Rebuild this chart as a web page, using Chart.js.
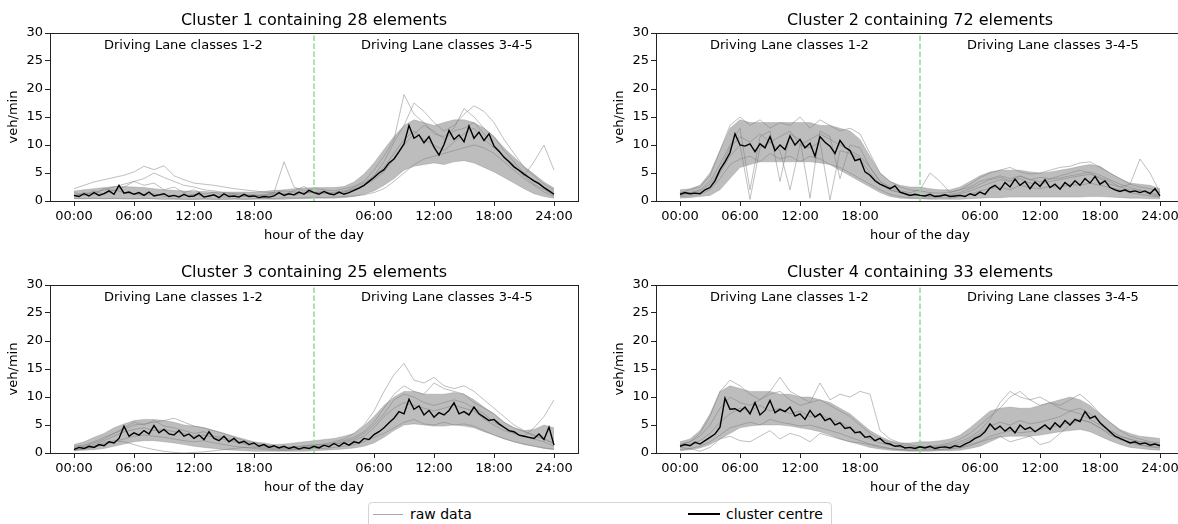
<!DOCTYPE html>
<html>
<head>
<meta charset="utf-8">
<script src="https://cdn.jsdelivr.net/npm/chart.js@4.4.1/dist/chart.umd.min.js"></script>
<style>
  html, body { margin: 0; padding: 0; background: #fff; overflow: hidden; width: 1178px; height: 524px; }
  .panel { position: absolute; width: 600px; height: 250px; }
  #legend { position: absolute; left: 368px; top: 502px; width: 462px; height: 32px; border: 1px solid #d4d4d4;
            border-radius: 4px; background: #fff; font: 14px "DejaVu Sans", sans-serif; color: #000; }
  #legend span { position: absolute; }
</style>
</head>
<body>
<div class="panel" style="left:0;top:0"><canvas id="c1" width="600" height="250"></canvas></div>
<div class="panel" style="left:606px;top:0"><canvas id="c2" width="600" height="250"></canvas></div>
<div class="panel" style="left:0;top:252px"><canvas id="c3" width="600" height="250"></canvas></div>
<div class="panel" style="left:606px;top:252px"><canvas id="c4" width="600" height="250"></canvas></div>
<div id="legend">
  <span style="left:4px;top:11px;width:30px;height:1px;background:#a8a8a8"></span>
  <span style="left:41px;top:3px">raw data</span>
  <span style="left:319px;top:10px;width:32px;height:2px;background:#000"></span>
  <span style="left:357px;top:3px">cluster centre</span>
</div>
<script>
// two lanes glued together: hours 0-24 = classes 1-2, 24-48 = classes 3-4-5
const clusterSizes = [28, 72, 25, 33];
const tickHours = [0, 6, 12, 18, 30, 36, 42, 48];
const tickLabels = ['00:00', '06:00', '12:00', '18:00', '06:00', '12:00', '18:00', '24:00'];
const laneLabels = ['Driving Lane classes 1-2', 'Driving Lane classes 3-4-5'];
const laneSplit = 24;

// cluster centres, one value every 30 min (97 values)
const centre1 = [
  1.0, 0.8, 1.3, 0.9, 1.5, 1.0, 1.3, 1.8, 1.2, 2.8, 1.4, 1.6,
  1.2, 1.5, 1.0, 1.6, 0.9, 1.1, 1.3, 0.8, 1.0, 0.7, 1.2, 0.8,
  0.9, 1.4, 0.7, 0.9, 1.1, 0.6, 1.3, 0.8, 0.9, 0.7, 1.2, 0.8,
  0.9, 0.6, 0.8, 0.7, 0.9, 1.5, 1.0, 1.3, 1.1, 1.6, 1.2, 1.9,
  1.5, 1.2, 1.7, 1.3, 1.1, 1.6, 1.2, 1.5, 1.9, 2.3, 2.8, 3.5,
  4.2, 5.0, 5.6, 6.8, 7.5, 8.8, 10.2, 13.5, 11.2, 11.8, 10.4, 11.5,
  9.6, 8.2, 10.1, 12.6, 11.0, 11.8, 10.6, 13.4, 11.2, 12.3, 10.8, 12.0,
  9.8, 8.9, 7.8, 7.0, 6.1, 5.5, 4.8, 4.2, 3.6, 3.1, 2.4, 1.8,
  1.2
];
const centre2 = [
  1.2, 1.5, 1.3, 1.4, 1.3, 2.0, 2.4, 3.6, 5.6, 7.0, 8.6, 12.0,
  10.0, 9.8, 10.2, 8.8, 10.2, 9.5, 11.5, 9.0, 10.0, 9.2, 11.6, 10.0,
  11.0, 9.5, 10.3, 8.0, 11.5, 10.5, 9.8, 8.5, 10.8, 9.6, 9.0, 7.2,
  7.5, 5.2, 4.6, 3.6, 3.0, 2.6, 2.2, 2.7, 1.6, 1.3, 1.0, 1.2,
  1.0, 0.9, 1.2, 0.8, 0.9, 1.1, 0.8, 0.9, 1.0, 0.8, 1.3, 1.0,
  1.6, 1.2, 2.3, 2.8, 2.0, 3.3, 2.5, 3.9, 2.8, 3.5, 2.2, 3.4,
  2.6, 3.8, 2.4, 3.0, 2.1, 3.3, 2.6, 3.6, 2.8, 4.0, 3.2, 4.4,
  3.0, 3.6, 2.4, 2.0, 1.7, 2.0, 1.6, 1.8, 1.5, 1.8, 1.3, 2.2,
  0.9
];
const centre3 = [
  0.6, 1.0, 0.8, 1.2, 1.0, 1.5, 1.3, 2.0, 1.8, 2.6, 4.8, 3.0,
  3.6, 3.2, 4.0, 3.4, 4.9, 3.6, 4.2, 3.4, 3.2, 4.0, 3.0, 3.4,
  2.6, 3.2, 2.4, 3.8, 2.6, 2.2, 3.0, 2.0, 2.6, 1.8, 2.1, 1.5,
  1.8, 1.2, 1.5, 1.0, 1.3, 0.9, 1.2, 0.8, 1.1, 0.7, 1.0, 0.8,
  1.2, 0.9, 1.4, 1.1, 1.7, 1.2, 1.8, 1.4, 2.0, 1.8, 2.6, 2.4,
  3.3, 3.8, 4.5, 5.4, 6.2, 7.4, 7.0, 9.6, 7.8, 8.4, 6.8, 7.6,
  6.4, 7.2, 6.8, 7.6, 9.0, 7.0, 7.4, 6.8, 8.2, 7.0, 6.4, 5.8,
  6.0, 5.2, 4.6, 4.0, 3.8, 3.2, 3.0, 2.8, 2.6, 3.4, 2.4, 4.6,
  1.4
];
const centre4 = [
  1.2, 1.5, 1.3, 1.9, 1.6, 2.2, 2.8, 3.4, 4.6, 9.8, 7.8, 7.9,
  7.4, 8.2, 7.0, 9.0, 6.8, 7.6, 9.4, 7.2, 7.8, 7.4, 8.2, 6.6,
  7.0, 6.0, 7.6, 6.4, 7.0, 5.8, 6.2, 5.0, 5.4, 4.4, 4.6, 3.6,
  3.8, 2.8, 3.0, 2.2, 2.6, 1.8, 1.6, 1.2, 1.3, 0.9, 1.0, 0.8,
  1.1, 0.9, 1.2, 0.8, 1.0, 1.1, 0.9, 1.3, 1.1, 1.6, 2.0, 2.6,
  3.0, 3.8, 5.2, 4.2, 4.8, 3.9, 4.6, 3.6, 5.0, 4.2, 4.6, 3.8,
  4.4, 5.0, 4.2, 5.4, 4.6, 5.8, 5.0, 6.0, 5.6, 7.4, 6.2, 6.6,
  5.4, 4.6, 3.8, 3.0, 2.6, 2.2, 1.8, 2.0, 1.6, 1.8, 1.4, 1.6,
  1.3
];

// spread of the raw profiles, hourly (49 values): lower and upper edge of the dense band
const low1 = [0.4,0.4,0.4,0.4,0.4,0.4,0.4,0.4,0.4,0.4,0.3,0.3,0.3,0.3,0.3,0.3,0.3,0.3,0.3,0.3,0.3,0.3,0.4,0.4,0.5,
              0.5,0.5,0.6,0.8,1.2,1.8,2.8,4.0,5.5,6.2,6.5,6.8,6.5,7.0,7.2,6.8,6.0,5.2,4.2,3.2,2.2,1.3,0.8,0.5];
const high1 = [1.8,2.0,2.2,2.4,2.6,2.6,2.5,2.4,2.2,2.0,1.9,1.8,1.7,1.7,1.6,1.6,1.6,1.6,1.6,1.7,1.9,2.0,2.2,2.3,2.4,
               2.4,2.4,2.6,3.4,4.8,6.8,9.2,11.5,13.5,14.5,14.0,13.5,14.0,14.5,14.5,14.0,13.0,11.5,9.5,7.8,6.2,4.8,3.4,2.3];
const low2 = [0.5,0.6,0.8,1.0,2.0,4.0,6.0,6.5,7.0,7.0,7.0,7.0,7.0,7.0,6.8,6.5,5.5,4.5,3.5,2.5,1.5,0.8,0.5,0.4,0.4,
              0.3,0.3,0.3,0.3,0.4,0.5,0.6,0.6,0.7,0.7,0.7,0.7,0.7,0.7,0.7,0.7,0.8,0.8,0.7,0.6,0.5,0.5,0.4,0.4];
const high2 = [2.0,2.2,2.8,5.0,9.0,13.0,14.5,14.0,14.0,14.0,14.0,14.0,14.0,14.0,13.5,13.5,13.0,12.5,11.0,8.0,5.0,3.5,2.8,2.5,2.5,
               2.2,2.0,2.0,2.5,3.5,4.5,5.2,5.5,5.5,5.5,5.2,5.0,5.2,5.5,5.8,6.2,6.5,6.2,5.0,4.0,3.2,3.0,2.8,2.2];
const low3 = [0.4,0.5,0.6,0.8,1.2,1.6,2.0,2.2,2.2,2.0,1.8,1.5,1.2,1.0,0.8,0.6,0.5,0.4,0.3,0.3,0.3,0.3,0.3,0.3,0.4,
              0.5,0.6,0.7,0.9,1.2,1.8,2.8,4.0,5.0,5.2,5.0,4.8,4.8,5.0,4.8,4.5,3.8,3.2,2.5,2.0,1.5,1.2,0.8,0.6];
const high3 = [1.5,2.0,2.8,3.5,4.5,5.2,5.8,6.0,6.0,5.8,5.5,5.0,4.8,4.5,4.0,3.5,3.0,2.5,2.0,1.8,1.5,1.6,1.8,2.0,2.2,
               2.4,2.6,3.0,3.5,4.8,6.5,8.5,10.0,11.0,11.0,10.5,10.5,10.5,10.8,10.5,9.5,8.2,7.0,5.5,4.5,4.0,4.2,5.0,4.5];
const low4 = [0.4,0.6,0.9,1.5,2.5,3.5,4.5,4.8,5.0,5.0,5.0,4.8,4.5,4.2,3.8,3.2,2.5,2.0,1.5,1.0,0.7,0.5,0.4,0.3,0.3,
              0.3,0.4,0.4,0.5,0.8,1.2,2.0,2.8,3.0,3.0,3.0,3.2,3.5,3.8,4.0,4.2,3.8,3.0,2.2,1.5,1.0,0.8,0.6,0.5];
const high4 = [2.0,2.5,4.0,7.0,11.0,12.0,11.5,11.0,11.0,11.0,10.5,10.5,10.0,10.0,9.5,9.0,8.0,7.0,5.5,4.0,3.0,2.2,1.8,1.8,2.0,
               2.0,2.2,2.5,3.2,4.5,6.0,7.5,8.0,8.2,8.0,8.0,8.5,9.0,9.5,10.0,9.5,8.5,7.0,5.5,4.2,3.5,3.0,2.8,2.6];

// a few individual raw profiles per cluster, hourly (49 values)
const raw1 = [
  [2.2,2.8,3.4,3.8,4.2,4.6,5.2,6.2,5.6,6.3,4.5,3.8,3.2,3.0,2.8,2.5,2.2,2.0,1.8,1.6,1.5,1.8,1.6,1.4,1.6,
   1.5,1.4,1.6,2.0,2.8,4.5,7.0,10.5,13.5,17.5,16.0,14.0,12.5,13.5,15.5,17.0,16.0,14.0,11.0,8.5,6.0,4.5,3.0,2.0],
  [1.0,1.2,1.5,2.0,2.5,3.0,3.5,4.0,5.0,4.2,3.5,2.8,2.5,2.0,1.8,1.5,1.3,1.2,1.0,1.1,1.5,7.0,2.5,1.8,2.2,
   2.0,1.8,2.2,2.6,3.5,5.5,8.0,11.0,19.0,15.5,14.0,12.0,11.5,13.0,16.5,15.0,13.0,11.5,9.0,7.0,5.0,3.5,2.5,1.5],
  [0.5,0.4,0.5,0.4,0.5,0.4,0.4,0.5,0.4,0.3,0.4,0.3,0.3,0.4,0.3,0.3,0.4,0.3,0.4,0.5,0.4,0.6,0.5,0.6,0.7,
   0.6,0.7,0.8,0.9,1.1,1.5,2.2,3.5,5.0,6.5,7.5,8.0,8.5,9.0,9.5,10.0,9.5,8.5,7.0,5.5,4.0,2.8,1.6,0.8],
  [1.5,1.0,1.8,1.2,2.0,1.5,1.2,1.0,1.3,0.8,1.0,0.9,1.2,0.8,1.0,0.7,0.9,0.8,1.0,0.9,1.2,1.4,1.0,1.5,1.6,
   1.3,1.5,1.8,2.2,2.8,3.8,5.2,7.5,10.0,12.0,13.5,12.5,11.0,12.5,13.0,14.0,12.0,10.0,8.0,6.0,4.5,7.0,10.0,5.5],
  [0.8,1.5,1.2,2.2,1.8,2.5,3.5,2.8,3.2,2.0,2.5,1.5,2.0,1.2,1.6,1.0,1.3,0.8,1.1,0.9,1.4,1.2,1.8,2.6,1.4,
   1.8,1.2,1.5,2.5,3.2,4.5,6.0,8.5,11.0,12.5,11.0,10.0,9.0,10.5,12.0,13.0,11.0,9.5,8.0,6.5,4.5,3.0,2.0,1.0]
];
const raw2 = [
  [1.0,1.5,2.0,3.5,6.5,10.0,13.0,2.0,11.5,12.5,3.5,12.0,11.0,0.5,12.5,11.5,4.0,10.0,9.5,6.0,3.5,2.0,1.5,1.2,1.0,
   0.8,1.0,1.2,1.5,2.2,3.0,3.8,4.2,3.6,4.4,3.8,3.4,3.9,4.1,4.5,4.8,5.2,4.6,3.8,3.0,2.4,2.0,1.5,1.0],
  [1.5,2.0,2.5,4.5,9.0,13.5,15.0,13.5,14.5,13.0,14.0,13.5,15.0,13.0,14.5,13.5,12.5,13.0,12.0,8.5,5.0,3.5,2.5,2.0,1.8,
   1.5,1.4,1.6,2.0,3.0,4.2,5.0,5.5,6.0,5.2,4.8,5.0,5.5,6.0,6.2,6.8,7.0,6.0,5.0,4.0,3.0,2.5,2.2,1.5],
  [0.8,0.9,1.2,2.0,4.0,6.5,7.5,8.0,7.0,8.5,7.5,8.0,7.0,8.0,7.5,6.5,6.0,5.0,4.0,3.0,2.0,1.2,0.8,0.6,0.5,
   0.5,0.6,0.5,0.8,1.2,1.8,2.2,2.5,2.0,2.8,2.4,2.2,2.6,2.4,3.0,2.8,3.2,2.8,2.4,2.0,1.5,1.2,0.9,0.7],
  [1.2,1.4,1.8,3.0,5.5,9.5,11.5,10.5,12.0,10.5,11.5,12.5,10.0,11.0,12.0,11.0,10.0,9.0,8.0,6.0,3.5,2.5,1.8,1.5,2.0,
   5.0,3.5,1.5,2.0,2.5,3.5,4.0,4.5,4.0,4.5,3.8,4.2,4.0,4.5,5.0,5.5,5.0,4.0,3.0,2.5,3.0,7.5,5.0,1.5],
  [1.0,1.2,1.5,2.5,5.0,8.0,10.0,0.3,9.5,10.5,9.0,2.0,10.0,9.5,10.5,0.2,9.0,8.5,7.5,5.0,3.0,2.0,1.5,1.0,1.0,
   0.8,0.9,1.0,1.2,1.8,2.5,3.2,3.8,3.5,4.0,3.2,3.0,3.5,3.8,4.2,4.5,4.8,4.2,3.5,2.5,2.0,1.8,1.2,0.8]
];
const raw3 = [
  [0.5,0.8,1.2,1.8,2.2,2.0,1.5,1.0,0.6,0.3,0.1,0.0,0.1,0.2,0.4,0.6,0.8,1.0,1.0,0.8,0.6,0.5,0.6,0.8,1.0,
   1.2,1.5,2.0,2.5,3.5,5.0,7.0,9.5,10.5,10.0,9.0,8.5,9.0,9.5,9.0,8.0,7.0,5.5,4.5,3.5,3.0,2.5,2.0,1.2],
  [1.0,1.2,1.8,2.5,3.5,4.5,5.5,5.0,5.8,4.8,4.5,4.0,3.5,3.8,3.0,2.8,2.2,1.8,1.5,1.2,1.0,0.8,1.0,1.2,1.4,
   1.6,2.0,2.5,3.5,5.0,7.5,11.0,14.0,16.0,13.0,12.5,13.5,12.0,11.5,12.0,11.0,9.5,8.0,6.5,5.0,4.0,3.0,2.5,1.8],
  [0.8,1.0,1.5,2.2,3.0,3.8,4.2,4.5,4.0,4.2,3.8,3.5,3.0,3.2,2.8,2.4,2.0,1.6,1.2,1.0,0.8,0.7,0.8,1.0,1.2,
   1.3,1.6,1.8,2.2,3.0,4.5,6.5,8.0,9.0,8.5,8.0,7.5,8.0,8.5,8.0,7.5,6.0,5.0,4.0,3.5,3.0,4.5,6.5,9.5],
  [1.2,1.4,2.0,2.8,3.5,4.2,5.0,5.2,5.5,5.8,6.2,5.5,4.8,4.5,4.0,3.5,2.8,2.2,1.8,1.5,1.2,1.0,1.1,1.3,1.5,
   1.4,1.8,2.2,2.8,3.8,5.5,8.0,10.5,12.0,11.0,10.5,12.5,11.5,11.0,10.5,9.0,8.0,7.0,5.5,4.5,3.8,3.2,2.5,1.6],
  [0.5,0.7,1.0,1.5,2.0,2.5,3.0,3.2,3.0,2.8,2.5,2.2,2.0,2.2,1.8,1.5,1.2,1.0,0.8,0.6,0.5,0.5,0.6,0.7,0.8,
   0.8,1.0,1.2,1.5,2.0,2.8,3.5,4.5,5.5,6.0,5.2,5.0,5.5,5.0,5.2,4.8,4.0,3.2,2.6,2.0,1.6,1.2,0.9,0.7]
];
const raw4 = [
  [1.5,2.0,3.0,5.0,8.0,10.0,9.0,8.5,9.5,10.5,11.0,9.5,8.5,9.0,12.5,9.5,10.5,10.0,11.0,10.5,4.0,2.5,1.8,1.5,1.2,
   1.0,1.2,1.5,2.0,2.8,4.0,6.0,9.0,11.0,10.0,9.5,8.5,9.0,8.0,7.5,7.0,6.0,5.0,4.0,3.0,2.5,2.0,1.8,1.5],
  [1.0,0.8,0.3,1.0,2.5,3.0,2.2,2.0,3.0,4.0,2.5,3.5,3.0,2.0,3.5,3.0,2.5,2.0,1.8,1.5,1.0,0.8,0.6,0.5,0.6,
   0.7,0.6,0.8,1.0,1.5,2.0,2.5,3.0,2.0,2.5,3.0,1.5,2.0,3.5,5.0,6.0,5.5,4.5,3.5,2.5,2.0,1.5,1.2,1.0],
  [1.5,2.0,3.5,6.5,11.0,13.0,12.0,10.5,9.5,11.0,13.5,11.0,10.0,9.0,9.5,8.5,7.5,6.5,5.0,3.5,2.5,2.0,1.5,1.2,1.0,
   1.2,1.4,1.8,2.5,3.5,5.0,6.5,8.0,10.0,11.0,9.5,10.0,9.0,8.5,9.5,10.5,9.0,7.0,5.5,4.0,3.0,2.5,2.0,1.8],
  [1.2,1.6,2.2,3.5,5.5,7.0,8.0,7.5,8.5,7.5,8.0,7.0,7.5,6.5,7.0,6.0,5.5,4.5,3.5,2.5,1.8,1.4,1.0,0.9,1.0,
   0.9,1.0,1.2,1.6,2.4,3.5,4.8,5.5,5.0,5.8,5.2,5.5,6.0,6.5,7.5,8.0,7.0,5.5,4.0,3.0,2.4,2.0,1.6,1.4],
  [0.6,0.8,1.2,2.0,3.2,4.5,5.0,5.5,5.0,6.0,5.5,5.2,4.8,5.0,4.5,4.0,3.5,2.8,2.2,1.6,1.2,0.8,0.6,0.5,0.5,
   0.5,0.6,0.7,0.9,1.3,2.0,3.0,3.5,4.0,3.6,3.8,4.2,4.6,5.0,5.5,6.0,5.5,4.5,3.2,2.4,1.8,1.4,1.1,0.9]
];

const centres = [centre1, centre2, centre3, centre4];
const lows = [low1, low2, low3, low4];
const highs = [high1, high2, high3, high4];
const raws = [raw1, raw2, raw3, raw4];

Chart.defaults.font.family = '"DejaVu Sans", sans-serif';
Chart.defaults.color = '#000';

// box around the axes, panel title and the two lane captions
const framePlugin = {
  id: 'frame',
  afterDraw(chart, args, opts) {
    const { ctx, chartArea: a } = chart;
    const x = chart.scales.x;
    ctx.save();
    ctx.strokeStyle = '#222';
    ctx.lineWidth = 1;
    ctx.strokeRect(Math.round(a.left) + 0.5, Math.round(a.top) + 0.5,
                   Math.round(a.right - a.left), Math.round(a.bottom - a.top));
    ctx.fillStyle = '#000';
    ctx.textBaseline = 'middle';
    ctx.textAlign = 'center';
    ctx.font = '16px "DejaVu Sans"';
    ctx.fillText(opts.title, (a.left + a.right) / 2, a.top - 12.5);
    ctx.textAlign = 'left';
    ctx.font = '13px "DejaVu Sans"';
    ctx.fillText(laneLabels[0], x.getPixelForValue(3.0), a.top + 12.8);
    ctx.fillText(laneLabels[1], x.getPixelForValue(28.7), a.top + 12.8);
    ctx.restore();
  }
};

function pts(arr, step) {
  return arr.map((v, i) => ({ x: i * step, y: v }));
}

function drawCluster(canvasId, k) {
  const datasets = [];
  datasets.push({ data: pts(centres[k], 0.5), borderColor: '#000', borderWidth: 1.4, order: 0 });
  datasets.push({ data: [{ x: laneSplit, y: 0 }, { x: laneSplit, y: 30 }],
                  borderColor: '#95d895', borderWidth: 1.5, borderDash: [5.5, 2.5], order: 1 });
  raws[k].forEach(r => {
    datasets.push({ data: pts(r, 1), borderColor: 'rgba(128,128,128,0.5)', borderWidth: 1, order: 2 });
  });
  const lowIdx = datasets.length;
  datasets.push({ data: pts(lows[k], 1), borderColor: 'rgba(128,128,128,0.3)', borderWidth: 1, order: 3 });
  datasets.push({ data: pts(highs[k], 1), borderColor: 'rgba(128,128,128,0.3)', borderWidth: 1, order: 3,
                  fill: lowIdx, backgroundColor: 'rgba(128,128,128,0.52)' });

  new Chart(document.getElementById(canvasId), {
    type: 'line',
    data: { datasets: datasets },
    plugins: [framePlugin],
    options: {
      responsive: false,
      animation: false,
      layout: { padding: { top: 33, right: 22, bottom: 7, left: 0 } },
      elements: { point: { radius: 0 }, line: { tension: 0 } },
      plugins: {
        legend: { display: false },
        tooltip: { enabled: false },
        frame: { title: 'Cluster ' + (k + 1) + ' containing ' + clusterSizes[k] + ' elements' }
      },
      scales: {
        x: {
          type: 'linear', min: -2.4, max: 50.4,
          afterBuildTicks: s => { s.ticks = tickHours.map(v => ({ value: v })); },
          afterFit: s => { s.height = 42; },
          ticks: { callback: (v, i) => tickLabels[i], font: { size: 13 }, color: '#000',
                   padding: 3, maxRotation: 0, autoSkip: false },
          grid: { drawOnChartArea: false, drawTicks: true, tickLength: 5, color: '#222' },
          border: { display: false },
          title: { display: true, text: 'hour of the day', font: { size: 13 }, color: '#000',
                   padding: { top: 0, bottom: 0 } }
        },
        y: {
          min: 0, max: 30,
          afterFit: s => { s.width = 50; },
          ticks: { stepSize: 5, font: { size: 13 }, color: '#000', padding: 2 },
          grid: { drawOnChartArea: false, drawTicks: true, tickLength: 5, color: '#222' },
          border: { display: false },
          title: { display: true, text: 'veh/min', font: { size: 13 }, color: '#000',
                   padding: { top: 6, bottom: 0 } }
        }
      }
    }
  });
}

drawCluster('c1', 0);
drawCluster('c2', 1);
drawCluster('c3', 2);
drawCluster('c4', 3);
</script>
</body>
</html>
